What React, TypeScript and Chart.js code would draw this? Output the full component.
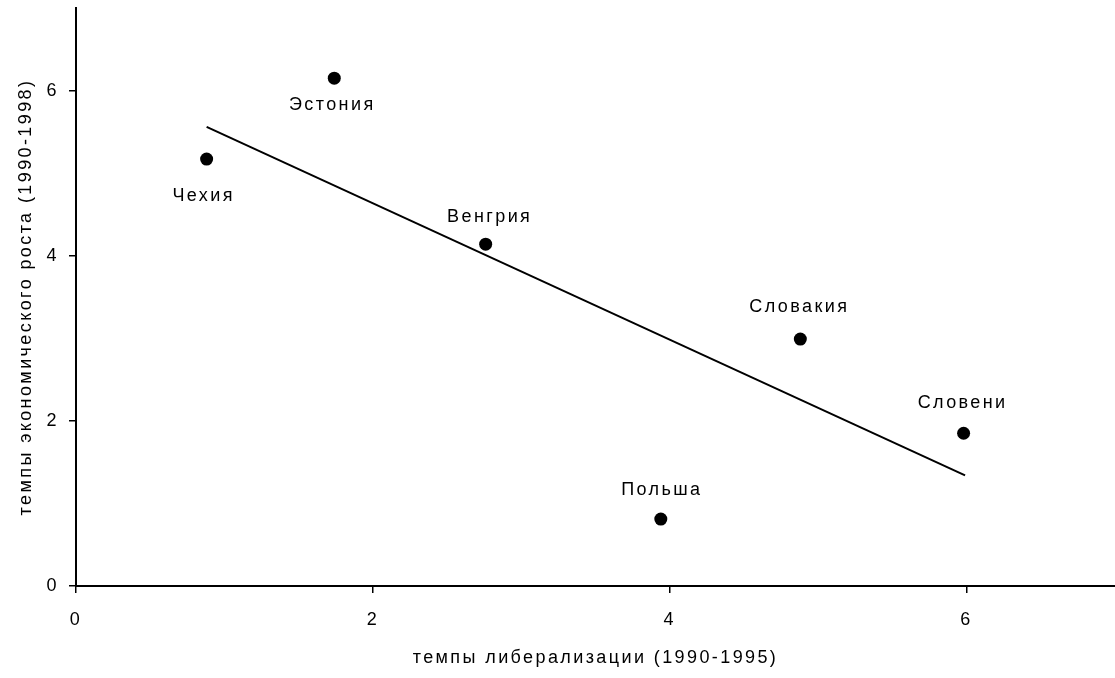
import React, { useEffect, useRef } from "react";
import { Chart, registerables } from "chart.js";

Chart.register(...registerables);

// ---- data ----
const countries = ["Чехия", "Эстония", "Венгрия", "Словакия", "Словени", "Польша"];
const liberalization = [0.88, 1.74, 2.76, 4.88, 5.98, 3.94];
const growth = [5.17, 6.15, 4.14, 2.99, 1.85, 0.81];
const trendX = [0.88, 5.99];
const trendY = [5.56, 1.34];
const xTickValues = [0, 2, 4, 6];
const yTickValues = [0, 2, 4, 6];
const xTitle = "темпы либерализации (1990-1995)";
const yTitle = "темпы экономического роста (1990-1998)";

// label placement relative to each point (layout, not data)
const labelOffsets: [number, number][] = [
  [-4, 37],
  [-3, 27],
  [3, -27],
  [-2, -32],
  [-2, -30],
  [0, -29],
];

const FONT_FAMILY = '"Liberation Sans", Arial, sans-serif';
const FONT_SIZE = 18;
const LETTER_SPACING = "2.4px";

const spacingPlugin = {
  id: "letterSpacing",
  beforeDraw(chart: any) {
    (chart.ctx as any).letterSpacing = LETTER_SPACING;
  },
};

const pointLabelsPlugin = {
  id: "pointLabels",
  afterDatasetsDraw(chart: any) {
    const ctx = chart.ctx;
    const meta = chart.getDatasetMeta(0);
    ctx.save();
    (ctx as any).letterSpacing = LETTER_SPACING;
    ctx.font = `${FONT_SIZE}px ${FONT_FAMILY}`;
    ctx.fillStyle = "#000";
    ctx.textAlign = "center";
    ctx.textBaseline = "middle";
    meta.data.forEach((el: any, i: number) => {
      const [dx, dy] = labelOffsets[i];
      ctx.fillText(countries[i], el.x + dx + 1, el.y + dy);
    });
    ctx.restore();
  },
};

export default function App() {
  const canvasRef = useRef<HTMLCanvasElement | null>(null);

  useEffect(() => {
    if (!canvasRef.current) return;
    const font = { family: FONT_FAMILY, size: FONT_SIZE };
    const chart = new Chart(canvasRef.current, {
      type: "scatter",
      data: {
        datasets: [
          {
            data: liberalization.map((x, i) => ({ x, y: growth[i] })),
            pointRadius: 6.5,
            pointBackgroundColor: "#000",
            pointBorderWidth: 0,
            showLine: false,
          },
          {
            data: trendX.map((x, i) => ({ x, y: trendY[i] })),
            showLine: true,
            borderColor: "#000",
            borderWidth: 2,
            pointRadius: 0,
            fill: false,
          },
        ],
      },
      options: {
        responsive: false,
        animation: false,
        layout: { autoPadding: false, padding: { top: 8, left: 0, right: 0, bottom: 0 } },
        plugins: {
          legend: { display: false },
          tooltip: { enabled: false },
        },
        scales: {
          x: {
            type: "linear",
            min: 0,
            max: 7,
            afterFit: (s: any) => {
              s.height = 92;
              s.paddingLeft = 0;
              s.paddingRight = 0;
            },
            afterBuildTicks: (s: any) => {
              s.ticks = xTickValues.map((v) => ({ value: v }));
            },
            grid: {
              display: true,
              drawOnChartArea: false,
              drawTicks: true,
              tickLength: 7,
              color: "#000",
              lineWidth: 1.5,
            },
            border: { display: true, color: "#000", width: 2 },
            ticks: { color: "#000", font, padding: 16, maxRotation: 0 },
            title: {
              display: true,
              text: xTitle,
              color: "#000",
              font,
              padding: { top: 0, bottom: 9 },
            },
          },
          y: {
            type: "linear",
            min: 0,
            max: 7,
            afterFit: (s: any) => {
              s.width = 76;
              s.paddingTop = 0;
              s.paddingBottom = 0;
            },
            afterBuildTicks: (s: any) => {
              s.ticks = yTickValues.map((v) => ({ value: v }));
            },
            grid: {
              display: true,
              drawOnChartArea: false,
              drawTicks: true,
              tickLength: 7,
              color: "#000",
              lineWidth: 1.5,
            },
            border: { display: true, color: "#000", width: 2 },
            ticks: { color: "#000", font, padding: 10 },
            title: {
              display: true,
              text: yTitle,
              color: "#000",
              font,
              padding: { top: 15, bottom: 0 },
            },
          },
        },
      },
      plugins: [spacingPlugin, pointLabelsPlugin],
    } as any);
    return () => chart.destroy();
  }, []);

  return (
    <div style={{ position: "absolute", left: 0, top: 0, width: 1115, height: 678, background: "#fff" }}>
      <canvas ref={canvasRef} width={1115} height={678} style={{ display: "block" }} />
    </div>
  );
}
